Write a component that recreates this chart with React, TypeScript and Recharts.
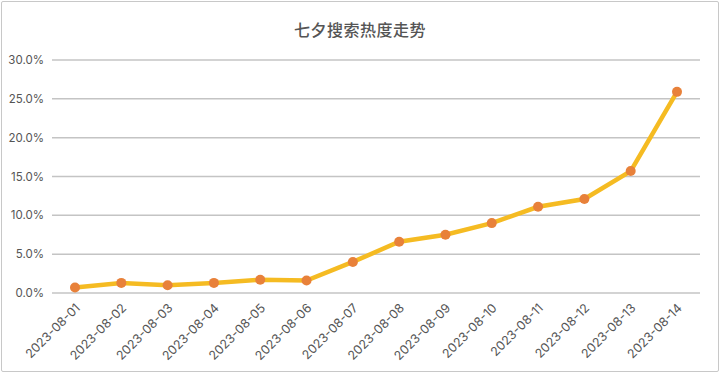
import { CartesianGrid, Line, LineChart, XAxis, YAxis } from 'recharts';

const TITLE = '七夕搜索热度走势';
const DATES = [
  '2023-08-01', '2023-08-02', '2023-08-03', '2023-08-04', '2023-08-05', '2023-08-06', '2023-08-07',
  '2023-08-08', '2023-08-09', '2023-08-10', '2023-08-11', '2023-08-12', '2023-08-13', '2023-08-14',
];
const HEAT = [0.7, 1.3, 1.0, 1.3, 1.7, 1.6, 4.0, 6.6, 7.5, 9.0, 11.1, 12.1, 15.7, 25.9];
const Y_TICKS = [0, 5, 10, 15, 20, 25, 30];

const data = DATES.map((date, i) => ({ date, heat: HEAT[i] }));

const FONT = 'Inter, "Noto Sans CJK SC", sans-serif';

function DateTick({ x, y, payload }: any) {
  return (
    <g transform={`translate(${x + 3},${y + 5})`}>
      <text textAnchor="end" transform="rotate(-45)" fill="#555" fontSize={12.5} fontFamily={FONT} dy={4}>
        {payload.value}
      </text>
    </g>
  );
}

export default function App() {
  return (
    <div style={{ position: 'absolute', left: 0, top: 0, width: 720, height: 373, background: '#fff' }}>
      <div
        style={{
          position: 'absolute', left: 1, top: 1, width: 716, height: 369,
          border: '1px solid #c8c8c8', borderRadius: 2,
        }}
      />
      <div
        style={{
          position: 'absolute', top: 17, left: 0, width: 720, textAlign: 'center',
          fontFamily: FONT, fontSize: 16, fontWeight: 500, color: '#555', letterSpacing: 0.5,
        }}
      >
        {TITLE}
      </div>
      <LineChart width={720} height={373} data={data} margin={{ top: 60, right: 20, bottom: 0, left: 8 }}>
        <CartesianGrid vertical={false} stroke="#c4c4c4" strokeWidth={1.5} />
        <XAxis
          dataKey="date"
          height={80}
          axisLine={false}
          tickLine={false}
          interval={0}
          padding={{ left: 23, right: 23 }}
          tick={<DateTick />}
        />
        <YAxis
          width={44}
          domain={[0, 30]}
          ticks={Y_TICKS}
          axisLine={false}
          tickLine={false}
          tickFormatter={(v: number) => `${v.toFixed(1)}%`}
          tick={{ fill: '#555', fontSize: 11.5, fontFamily: FONT }}
        />
        <Line
          dataKey="heat"
          stroke="#f5bb22"
          strokeWidth={4.5}
          dot={{ r: 5, fill: '#e8813a', stroke: '#e8813a', strokeWidth: 0 }}
          isAnimationActive={false}
        />
      </LineChart>
    </div>
  );
}
